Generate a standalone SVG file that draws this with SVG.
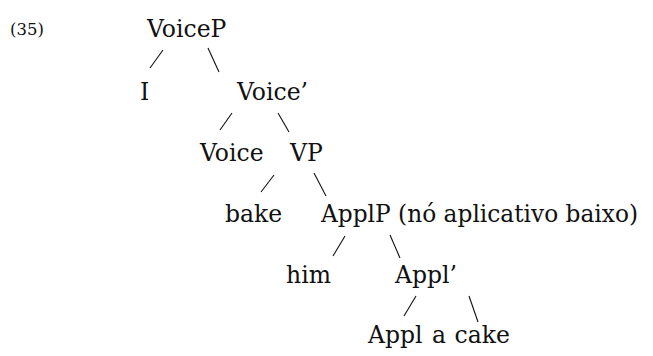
<svg xmlns="http://www.w3.org/2000/svg" width="653" height="356" viewBox="0 0 653 356">
<style>
.t{font-family:'DejaVu Serif', 'Liberation Serif', serif;font-size:23.5px;fill:#111;}
.num{font-size:16.5px;}
line{stroke:#111;stroke-width:1.1;}
</style>
<rect width="653" height="356" fill="#fff"/>
<g class="t">
<text class="num" x="10" y="35">(35)</text>
<g id="n-voiceP"><text x="147" y="37">VoiceP</text></g>
<g id="n-I"><text x="140" y="100">I</text></g>
<g id="n-voiceBar"><text x="237" y="100">Voice’</text></g>
<g id="n-voice"><text x="200" y="161">Voice</text></g>
<g id="n-VP"><text x="290" y="161">VP</text></g>
<g id="n-bake"><text x="225" y="222">bake</text></g>
<g id="n-applP"><text x="321" y="222" textLength="317" lengthAdjust="spacingAndGlyphs">ApplP (nó aplicativo baixo)</text></g>
<g id="n-him"><text x="286" y="283">him</text></g>
<g id="n-applBar"><text x="395" y="283">Appl’</text></g>
<g id="n-appl"><text x="368" y="343">Appl</text></g>
<g id="n-acake"><text x="432" y="343" word-spacing="1">a cake</text></g>
</g>
<g id="connectors">
<line x1="163" y1="50" x2="150" y2="68"/>
<line x1="208" y1="48" x2="219" y2="72"/>
<line x1="232" y1="113" x2="220" y2="130"/>
<line x1="278" y1="113" x2="289" y2="132"/>
<line x1="274" y1="175" x2="261" y2="192"/>
<line x1="314" y1="173" x2="326" y2="196"/>
<line x1="345" y1="236" x2="333" y2="256"/>
<line x1="390" y1="235" x2="400" y2="258"/>
<line x1="416" y1="296" x2="404" y2="316"/>
<line x1="469" y1="296" x2="478" y2="322"/>
</g>
</svg>
